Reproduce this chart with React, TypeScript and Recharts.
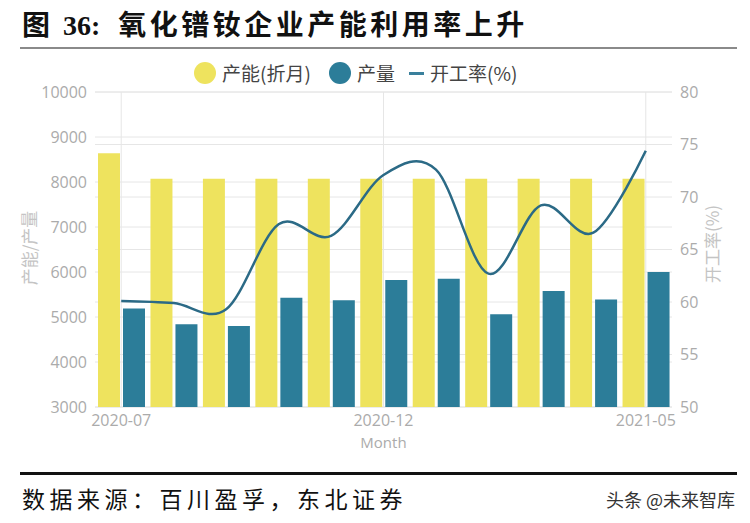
import React from 'react';
import { ComposedChart, Bar, Line, XAxis, YAxis, CartesianGrid } from 'recharts';

const months = ['2020-07', '2020-08', '2020-09', '2020-10', '2020-11', '2020-12', '2021-01', '2021-02', '2021-03', '2021-04', '2021-05'];
const capacity = [8640, 8070, 8070, 8070, 8070, 8070, 8070, 8070, 8070, 8070, 8070];
const production = [5190, 4840, 4800, 5430, 5370, 5820, 5850, 5060, 5580, 5390, 6000];
const utilization = [60.1, 59.9, 59.3, 67.4, 66.3, 72.1, 72.6, 62.7, 69.2, 66.6, 74.4];
const xTicks = ['2020-07', '2020-12', '2021-05'];
const leftTicks = [3000, 4000, 5000, 6000, 7000, 8000, 9000, 10000];
const rightTicks = [50, 55, 60, 65, 70, 75, 80];

const data = months.map((m, i) => ({
  month: m,
  capacity: capacity[i],
  production: production[i],
  rate: utilization[i],
}));

const YELLOW = '#EEE35E';
const TEAL = '#2C7D99';
const LINE = '#2B6A86';
const TICK = '#ababab';
const FONT = '"Open Sans", "Noto Sans CJK SC", sans-serif';
const CJK = '"Noto Sans CJK SC", sans-serif';

const tickStyle = { fill: TICK, fontSize: 16, fontFamily: FONT };

// Cardinal (Catmull-Rom style) curve factory, same interface as d3-shape curves
function cardPoint(that: any, x: number, y: number) {
  that._context.bezierCurveTo(
    that._x1 + that._k * (that._x2 - that._x0),
    that._y1 + that._k * (that._y2 - that._y0),
    that._x2 + that._k * (that._x1 - x),
    that._y2 + that._k * (that._y1 - y),
    that._x2,
    that._y2
  );
}
function smoothCurve(context: any): any {
  const c: any = {
    _context: context,
    _k: 1 / 6,
    _line: NaN,
    _point: 0,
    areaStart() { c._line = 0; },
    areaEnd() { c._line = NaN; },
    lineStart() {
      c._x0 = c._x1 = c._x2 = c._y0 = c._y1 = c._y2 = NaN;
      c._point = 0;
    },
    lineEnd() {
      switch (c._point) {
        case 2: c._context.lineTo(c._x2, c._y2); break;
        case 3: cardPoint(c, c._x1, c._y1); break;
      }
      if (c._line || (c._line !== 0 && c._point === 1)) c._context.closePath();
      c._line = 1 - c._line;
    },
    point(x: number, y: number) {
      x = +x; y = +y;
      switch (c._point) {
        case 0:
          c._point = 1;
          if (c._line) c._context.lineTo(x, y); else c._context.moveTo(x, y);
          break;
        case 1:
          c._point = 2; c._x1 = x; c._y1 = y;
          break;
        case 2:
          c._point = 3;
          cardPoint(c, x, y);
          break;
        default:
          cardPoint(c, x, y);
          break;
      }
      c._x0 = c._x1; c._x1 = c._x2; c._x2 = x;
      c._y0 = c._y1; c._y1 = c._y2; c._y2 = y;
    },
  };
  return c;
}

export default function App() {
  return (
    <div style={{ position: 'absolute', left: 0, top: 0, width: 750, height: 523, background: '#fff', overflow: 'hidden' }}>
      <div style={{ position: 'absolute', left: 22, top: 9, height: 30, lineHeight: '28px', fontSize: 28, fontWeight: 700, color: '#111', whiteSpace: 'pre', fontFamily: CJK }}>
        <span>图</span>
        <span style={{ marginLeft: 13, fontFamily: '"Liberation Serif", serif' }}>36:</span>
        <span style={{ marginLeft: 18, letterSpacing: 3.5 }}>氧化镨钕企业产能利用率上升</span>
      </div>
      <div style={{ position: 'absolute', left: 20, top: 47, width: 717, height: 1.5, background: '#8a8a8a' }} />

      {/* legend */}
      <div style={{ position: 'absolute', left: 194, top: 62, width: 22, height: 22, borderRadius: '50%', background: YELLOW }} />
      <div style={{ position: 'absolute', left: 222, top: 60, fontSize: 19, lineHeight: '26px', color: '#444', fontFamily: CJK }}>产能(折月)</div>
      <div style={{ position: 'absolute', left: 329, top: 62, width: 22, height: 22, borderRadius: '50%', background: TEAL }} />
      <div style={{ position: 'absolute', left: 357, top: 60, fontSize: 19, lineHeight: '26px', color: '#444', fontFamily: CJK }}>产量</div>
      <div style={{ position: 'absolute', left: 409, top: 72, width: 15, height: 3, background: '#3a809c' }} />
      <div style={{ position: 'absolute', left: 430, top: 60, fontSize: 19, lineHeight: '26px', color: '#444', fontFamily: CJK }}>开工率(%)</div>

      <div style={{ position: 'absolute', left: 0, top: 0 }}>
        <ComposedChart width={750} height={523} data={data} margin={{ top: 92, right: 38, bottom: 73, left: 35 }} barGap={3} barCategoryGap={3}>
          <CartesianGrid yAxisId="left" stroke="#e6e6e6" verticalValues={xTicks} />
          <CartesianGrid yAxisId="right" stroke="#e6e6e6" vertical={false} />
          <XAxis
            dataKey="month"
            ticks={xTicks}
            interval={0}
            height={43}
            axisLine={false}
            tickLine={false}
            tick={tickStyle}
            label={{ value: 'Month', position: 'insideBottom', offset: 2, fill: TICK, fontSize: 15, fontFamily: FONT }}
          />
          <YAxis
            yAxisId="left"
            width={60}
            domain={[3000, 10000]}
            ticks={leftTicks}
            axisLine={false}
            tickLine={false}
            tick={tickStyle}
            allowDataOverflow
          />
          <YAxis
            yAxisId="right"
            orientation="right"
            width={40}
            domain={[50, 80]}
            ticks={rightTicks}
            axisLine={false}
            tickLine={false}
            tick={tickStyle}
            allowDataOverflow
          />
          <Bar yAxisId="left" dataKey="capacity" fill={YELLOW} barSize={22} isAnimationActive={false} />
          <Bar yAxisId="left" dataKey="production" fill={TEAL} barSize={22} isAnimationActive={false} />
          <Line yAxisId="right" dataKey="rate" type={smoothCurve as any} stroke={LINE} strokeWidth={2.5} dot={false} isAnimationActive={false} />
        </ComposedChart>
      </div>

      {/* axis titles */}
      <div style={{ position: 'absolute', left: 28, top: 248, transform: 'translate(-50%, -50%) rotate(-90deg)', fontSize: 17, color: '#c4c4c4', whiteSpace: 'nowrap', fontFamily: CJK }}>产能/产量</div>
      <div style={{ position: 'absolute', left: 711, top: 244, transform: 'translate(-50%, -50%) rotate(-90deg)', fontSize: 17, color: '#c4c4c4', whiteSpace: 'nowrap', fontFamily: CJK }}>开工率(%)</div>

      <div style={{ position: 'absolute', left: 20, top: 472, width: 717, height: 3, background: '#111' }} />
      <div style={{ position: 'absolute', left: 22, top: 483, fontSize: 23, lineHeight: '30px', letterSpacing: 4.5, color: '#111', fontFamily: CJK }}>数据来源：百川盈孚，东北证券</div>
      <div style={{ position: 'absolute', right: 15, top: 487, fontSize: 18, lineHeight: '24px', color: '#333', fontFamily: CJK, whiteSpace: 'pre' }}>头条 @未来智库</div>
    </div>
  );
}
